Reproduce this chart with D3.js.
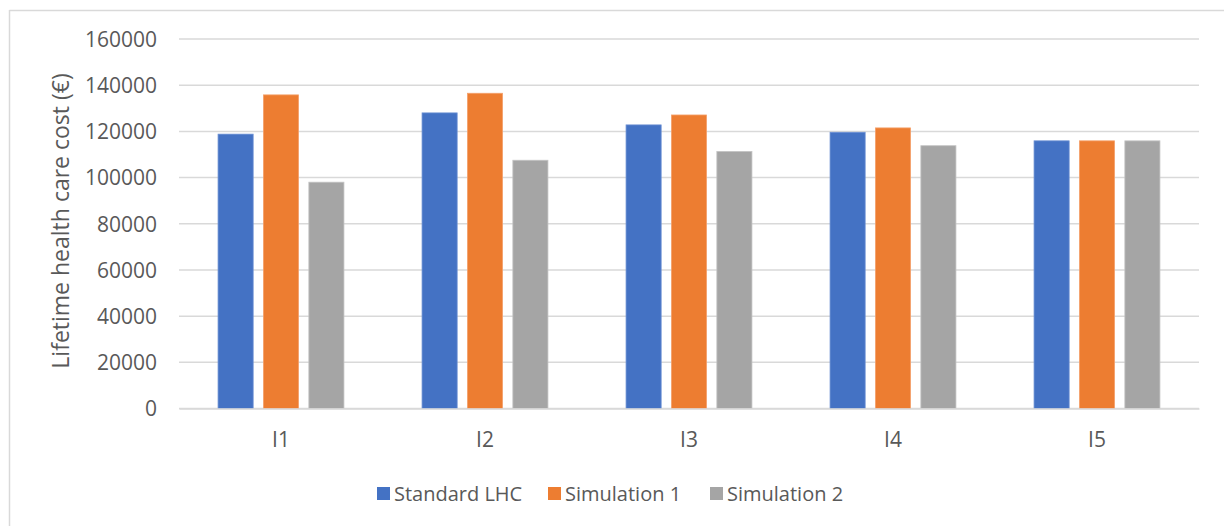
<!DOCTYPE html>
<html>
<head>
<meta charset="utf-8">
<script src="https://cdn.jsdelivr.net/npm/d3@7"></script>
<style>
  html, body { margin: 0; padding: 0; background: #fff; }
  svg { display: block; }
  text { font-family: "Open Sans", "Noto Sans", sans-serif; fill: #595959; }
</style>
</head>
<body>
<svg id="chart" width="1224" height="526"></svg>
<script>
// Lifetime health care cost per scenario
const categories = ["I1", "I2", "I3", "I4", "I5"];
const seriesNames = ["Standard LHC", "Simulation 1", "Simulation 2"];
const standardLHC = [118800, 128000, 122800, 119600, 115900];
const simulation1 = [135800, 136500, 127100, 121500, 115900];
const simulation2 = [98000, 107500, 111300, 113800, 115900];
const yTicks = [0, 20000, 40000, 60000, 80000, 100000, 120000, 140000, 160000];
const colors = ["#4472C4", "#ED7D31", "#A5A5A5"];
const strokes = ["#6a8fd3", "#f4a06a", "#c4c4c4"];

const seriesValues = [standardLHC, simulation1, simulation2];

const svg = d3.select("#chart");

// chart frame (top and left edges)
svg.append("line").attr("x1", 9.5).attr("x2", 1224).attr("y1", 10.5).attr("y2", 10.5)
  .attr("stroke", "#d9d9d9").attr("stroke-width", 1.5);
svg.append("line").attr("x1", 9.5).attr("x2", 9.5).attr("y1", 10).attr("y2", 526)
  .attr("stroke", "#d9d9d9").attr("stroke-width", 1.5);

const plot = { left: 179, right: 1199, top: 39, bottom: 408.5 };

const y = d3.scaleLinear().domain([0, 160000]).range([plot.bottom, plot.top]);
const x = d3.scaleBand().domain(categories).range([plot.left, plot.right]).padding(0);
const groupWidth = x.bandwidth() * 0.617;
const xs = d3.scaleBand().domain(seriesNames).range([0, groupWidth]).paddingInner(0.227).paddingOuter(0);
const groupOffset = (x.bandwidth() - groupWidth) / 2;

// gridlines
svg.append("g").selectAll("line").data(yTicks).join("line")
  .attr("x1", plot.left).attr("x2", plot.right)
  .attr("y1", d => y(d)).attr("y2", d => y(d))
  .attr("stroke", "#d9d9d9").attr("stroke-width", 1.5);

// y axis labels
const yAxis = d3.axisLeft(y).tickValues(yTicks).tickSize(0).tickPadding(0).tickFormat(d3.format("d"));
const yg = svg.append("g").attr("transform", `translate(157,0)`).call(yAxis);
yg.select(".domain").remove();
yg.selectAll("text").style("font-size", "21px").attr("fill", "#595959").attr("dy", "0.35em");

// bars
const groups = svg.append("g").selectAll("g").data(categories).join("g")
  .attr("transform", d => `translate(${x(d) + groupOffset},0)`);
groups.selectAll("rect")
  .data((c, i) => seriesNames.map((s, k) => ({ s, k, v: seriesValues[k][i] })))
  .join("rect")
  .attr("x", d => xs(d.s))
  .attr("width", xs.bandwidth())
  .attr("y", d => y(d.v))
  .attr("height", d => y(0) - y(d.v))
  .attr("fill", d => colors[d.k])
  .attr("stroke", d => strokes[d.k])
  .attr("stroke-width", 0.8);

// category axis
const xAxis = d3.axisBottom(x).tickSize(0).tickPadding(0);
const xg = svg.append("g").attr("transform", `translate(0,${plot.bottom})`).call(xAxis);
xg.select(".domain").attr("stroke", "#d9d9d9").attr("stroke-width", 1.5);
xg.selectAll("text").style("font-size", "21px").attr("fill", "#595959").attr("dy", "0").attr("y", 38);

// y axis title
svg.append("text")
  .attr("transform", "translate(69,221) rotate(-90)")
  .attr("text-anchor", "middle")
  .style("font-size", "23px")
  .text("Lifetime health care cost (€)");

// legend
const legendItems = [
  { name: seriesNames[0], x: 377 },
  { name: seriesNames[1], x: 548 },
  { name: seriesNames[2], x: 710 }
];
const lg = svg.append("g").selectAll("g").data(legendItems).join("g")
  .attr("transform", d => `translate(${d.x},487)`);
lg.append("rect").attr("width", 13).attr("height", 13).attr("fill", (d, i) => colors[i]);
lg.append("text").attr("x", 17).attr("y", 14).style("font-size", "20px").text(d => d.name);
</script>
</body>
</html>
